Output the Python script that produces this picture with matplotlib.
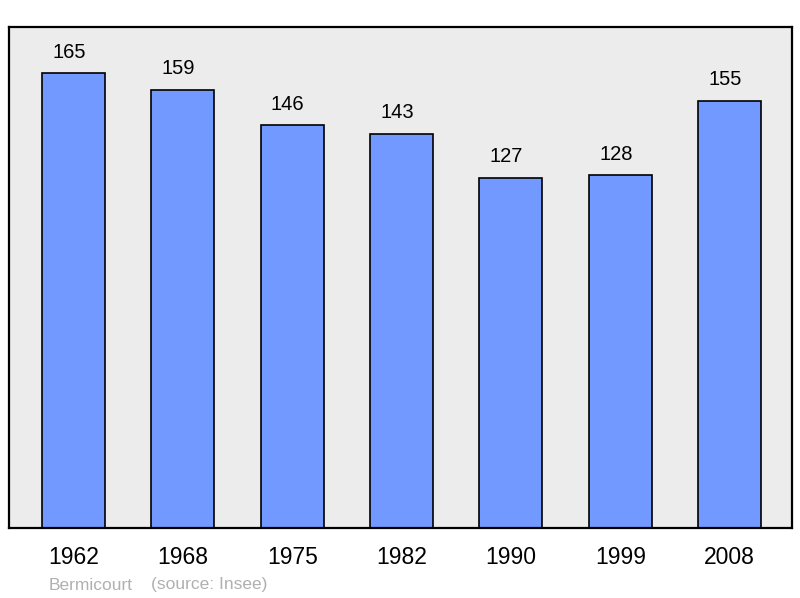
import matplotlib.pyplot as plt

years = ['1962', '1968', '1975', '1982', '1990', '1999', '2008']
population = [165, 159, 146, 143, 127, 128, 155]

plt.rcParams['font.family'] = ['Liberation Sans', 'DejaVu Sans']

fig = plt.figure(figsize=(8, 5.98), dpi=100)
ax = fig.add_axes([9 / 800, 70 / 598, 783 / 800, 501 / 598])
ax.set_facecolor('#ececec')

x = range(len(years))
ax.bar(x, population, width=0.576, color='#7299ff', edgecolor='black',
       linewidth=1.2, zorder=2)
for xi, v in zip(x, population):
    # labels sit a little left of the bar centre in the original
    ax.annotate(str(v), (xi, v), xytext=(-3.2, 15), textcoords='offset points',
                ha='center', va='center', fontsize=14.5)

ax.set_xlim(-0.59, 6.57)
ax.set_ylim(0, 181.7)
ax.set_yticks([])
ax.set_xticks(list(x))
ax.set_xticklabels(years, fontsize=16.5)
ax.tick_params(axis='x', length=0, pad=13)
for s in ax.spines.values():
    s.set_linewidth(1.6)
    s.set_color('black')

fig.text(49 / 800, 1 - 585 / 598, 'Bermicourt', color='#b0b0b0', fontsize=12.5,
         va='center', ha='left')
fig.text(151 / 800, 1 - 585 / 598, '(source: Insee)', color='#b0b0b0', fontsize=12.5,
         va='center', ha='left')

fig.savefig('out.png', dpi=100)
